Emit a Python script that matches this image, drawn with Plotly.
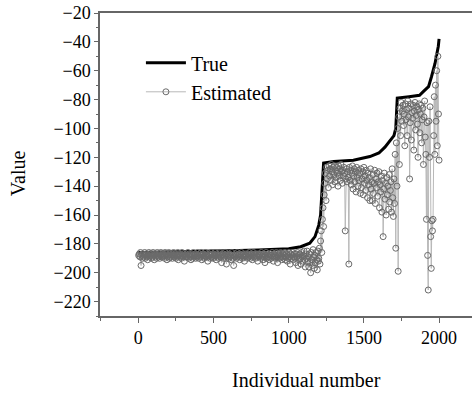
import plotly.graph_objects as go

# ---- data ----
true_x = [1, 200, 400, 600, 800, 1000, 1080, 1140, 1175, 1200, 1212, 1220, 1228, 1232,
          1300, 1430, 1540, 1600, 1640, 1670, 1700, 1712, 1716, 1722, 1800, 1870, 1900,
          1930, 1950, 1973, 1995, 2000]
true_y = [-186, -185.7, -185.3, -184.8, -184.2, -183.4, -182, -179.5, -175, -167, -160, -147,
          -130, -124, -123, -122, -119.5, -117, -113, -109, -105, -100, -85, -79, -78, -77,
          -74, -71, -64, -55, -43, -38]

# individuals 2..1198 (every 4th)
est_low_x = list(range(2, 1200, 4))
est_low_y = [
    -188, -187, -189, -186, -195, -188, -190, -187, -189, -188, -186, -190, -188, -187, -189, -191, -188, -186, -189, -187,
    -188, -190, -187, -189, -186, -188, -191, -187, -189, -188, -190, -186, -188, -189, -187, -190, -188, -186, -189, -188,
    -187, -189, -188, -190, -186, -188, -187, -191, -189, -188, -186, -190, -187, -189, -188, -187, -190, -188, -186, -189,
    -188, -187, -190, -188, -189, -186, -191, -188, -187, -189, -188, -190, -186, -188, -189, -187, -192, -188, -189, -187,
    -189, -188, -186, -190, -187, -188, -189, -191, -187, -188, -190, -186, -189, -188, -187, -190, -188, -189, -186, -188,
    -190, -187, -189, -188, -186, -191, -188, -187, -189, -190, -188, -186, -189, -187, -188, -192, -189, -187, -188, -190,
    -188, -186, -189, -187, -190, -188, -189, -186, -188, -191, -187, -189, -188, -190, -187, -186, -189, -188, -193, -188,
    -187, -190, -188, -189, -186, -188, -194, -187, -189, -188, -190, -187, -189, -188, -191, -186, -188, -190, -195, -188,
    -189, -187, -188, -190, -186, -189, -188, -187, -191, -189, -188, -186, -190, -188, -187, -189, -192, -188, -187, -189,
    -188, -190, -187, -189, -186, -188, -190, -187, -189, -191, -188, -186, -189, -187, -190, -188, -189, -187, -192, -188,
    -189, -187, -188, -190, -186, -189, -188, -191, -187, -189, -193, -188, -186, -190, -188, -187, -189, -191, -188, -187,
    -190, -188, -186, -189, -192, -187, -189, -188, -190, -186, -189, -193, -188, -187, -190, -189, -186, -188, -191, -189,
    -187, -190, -188, -186, -191, -189, -187, -192, -188, -190, -186, -189, -194, -187, -190, -188, -186, -191, -189, -187,
    -190, -193, -187, -189, -186, -195, -188, -191, -187, -190, -194, -186, -189, -192, -188, -185, -191, -196, -187, -190,
    -185, -192, -189, -196, -187, -193, -200, -186, -191, -195, -184, -189, -197, -188, -193, -186, -191, -198, -185, -192,
]
# individuals 1200..2000 (every 4th)
est_high_x = list(range(1200, 2001, 4))
est_high_y = [
    -190, -183, -194, -178, -171, -186, -163, -155, -168, -146,
    -138, -131, -150, -127, -135, -129, -141, -126, -133, -128,
    -136, -125, -130, -139, -127, -132, -126, -137, -129, -134,
    -127, -131, -140, -126, -133, -128, -136, -125, -130, -138,
    -129, -133, -127, -131, -171, -135, -128, -137, -130, -134,
    -194, -127, -136, -129, -139, -131, -126, -142, -133, -128,
    -137, -130, -144, -127, -134, -140, -129, -136, -131, -145,
    -128, -141, -135, -130, -146, -127, -138, -133, -143, -129,
    -136, -148, -131, -139, -134, -150, -128, -142, -137, -150,
    -132, -145, -138, -129, -152, -135, -141, -131, -147, -137,
    -130, -155, -139, -144, -133, -158, -136, -175, -142, -131,
    -149, -138, -160, -134, -146, -140, -156, -132, -151, -143,
    -137, -158, -128, -148, -161, -135, -152, -118, -183, -110,
    -140, -100, -199, -92, -125, -86, -105, -82, -95, -88,
    -84, -98, -90, -112, -83, -94, -87, -105, -81, -92,
    -86, -135, -96, -83, -108, -89, -93, -84, -115, -88,
    -82, -101, -91, -85, -97, -120, -87, -83, -103, -90,
    -84, -110, -94, -86, -125, -92, -81, -106, -118, -163,
    -96, -188, -212, -95, -120, -85, -175, -197, -164, -171,
    -163, -105, -78, -118, -70, -95, -60, -112, -50, -90,
    -122,
]
est_x = est_low_x + est_high_x
est_y = est_low_y + est_high_y

x_ticks = [0, 500, 1000, 1500, 2000]
y_ticks = list(range(-220, -19, 20))

FONT = "Liberation Serif, Times New Roman, serif"

fig = go.Figure()
fig.add_trace(go.Scatter(
    x=true_x, y=true_y, mode="lines", name="True",
    line=dict(color="black", width=3),
))
fig.add_trace(go.Scatter(
    x=est_x, y=est_y, mode="lines+markers", name="Estimated",
    line=dict(color="#b8b8b8", width=1),
    marker=dict(symbol="circle-open", size=6, color="#6a6a6a",
                line=dict(color="#6a6a6a", width=1)),
))

fig.update_layout(
    width=472, height=394,
    margin=dict(l=100, r=0, t=13, b=78),
    paper_bgcolor="white", plot_bgcolor="white",
    font=dict(family=FONT, size=18, color="black"),
    showlegend=True,
    legend=dict(x=0.11, y=0.9, xanchor="left", yanchor="top",
                font=dict(size=20), bgcolor="rgba(0,0,0,0)", itemwidth=40,
                tracegroupgap=0),
    annotations=[
        dict(text="Individual number", x=0.556, y=-0.21, xref="paper", yref="paper",
             showarrow=False, font=dict(size=20), xanchor="center", yanchor="middle"),
        dict(text="Value", x=-0.22, y=0.472, xref="paper", yref="paper",
             showarrow=False, font=dict(size=20), textangle=-90,
             xanchor="center", yanchor="middle"),
    ],
)
fig.update_xaxes(
    range=[-255, 2219], tickvals=x_ticks, showgrid=False, zeroline=False,
    showline=True, linecolor="#666", linewidth=1.5, mirror=True,
    ticks="outside", ticklen=5, tickcolor="#666", tickwidth=1.2,
    minor=dict(dtick=250, tick0=0, ticks="outside", ticklen=3, tickcolor="#666", showgrid=False),
)
fig.update_yaxes(
    range=[-230, -20], tickvals=y_ticks, showgrid=False, zeroline=False,
    showline=True, linecolor="#666", linewidth=1.5,
    ticks="outside", ticklen=4, tickcolor="#666", tickwidth=1.2,
    minor=dict(dtick=10, tick0=0, ticks="outside", ticklen=2, tickcolor="#666", showgrid=False),
)

fig.write_html("out.html")
